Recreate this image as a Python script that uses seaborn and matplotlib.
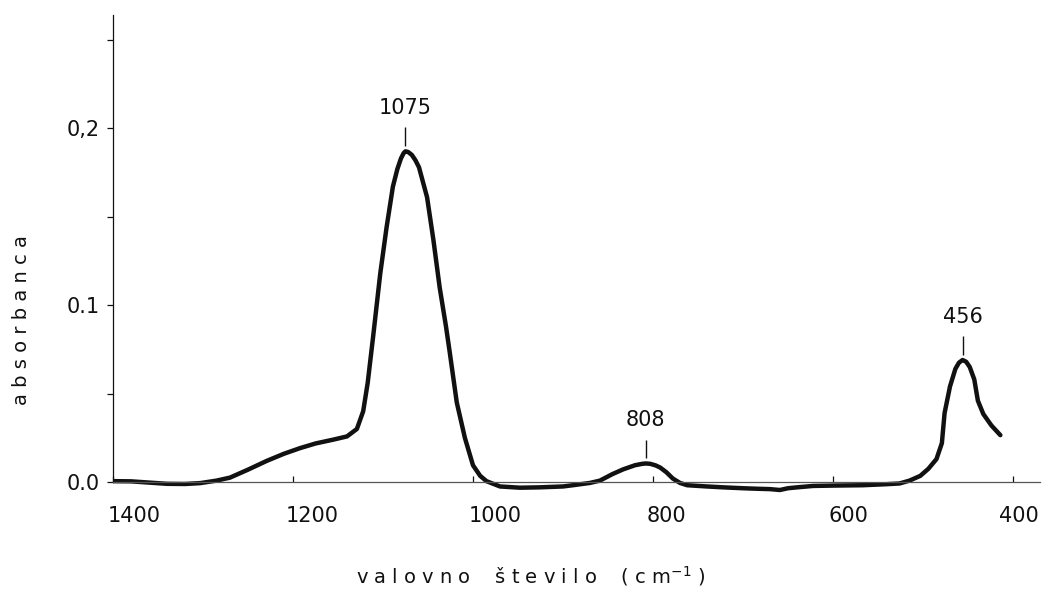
import matplotlib
matplotlib.use("Agg")
import matplotlib.pyplot as plt
import matplotlib.transforms as mtransforms
import pandas as pd
import seaborn as sns

# IR absorption spectrum (wavenumber in cm^-1, descending)
wavenumber = [
    1400, 1380, 1360, 1340, 1320, 1303, 1285, 1270, 1250, 1229,
    1210, 1192, 1175, 1155, 1140, 1129, 1122, 1117, 1111, 1103,
    1096, 1089, 1084, 1080, 1077, 1075, 1072, 1068, 1064, 1060,
    1051, 1044, 1037, 1030, 1026, 1018, 1009, 1000, 992, 985,
    970, 948, 926, 900, 889, 870, 859, 845, 833, 820,
    812, 808, 803, 797, 792, 785, 778, 770, 762, 740,
    722, 700, 684, 670, 659, 650, 640, 622, 600, 567,
    540, 526, 515, 503, 494, 485, 479, 476, 470, 464,
    460, 456, 452, 448, 443, 439, 433, 424, 414,
]
absorbance = [
    0.0005, 0.0004, -0.0003, -0.0010, -0.0011, -0.0006, 0.0008, 0.0025, 0.0070, 0.0120,
    0.0160, 0.0192, 0.0218, 0.0240, 0.0258, 0.0300, 0.0400, 0.0560, 0.0820, 0.1180,
    0.1440, 0.1670, 0.1770, 0.1830, 0.1860, 0.1870, 0.1866, 0.1850, 0.1820, 0.1780,
    0.1610, 0.1370, 0.1100, 0.0880, 0.0740, 0.0450, 0.0250, 0.0095, 0.0035, 0.0005,
    -0.0025, -0.0032, -0.0030, -0.0025, -0.0018, -0.0005, 0.0008, 0.0045, 0.0072, 0.0095,
    0.0103, 0.0105, 0.0103, 0.0094, 0.0082, 0.0055, 0.0020, -0.0005, -0.0018, -0.0025,
    -0.0030, -0.0035, -0.0038, -0.0040, -0.0045, -0.0035, -0.0030, -0.0022, -0.0020, -0.0018,
    -0.0012, -0.0008, 0.0008, 0.0035, 0.0075, 0.0130, 0.0220, 0.0390, 0.0540, 0.0640,
    0.0675, 0.0690, 0.0680, 0.0650, 0.0580, 0.0460, 0.0385, 0.0320, 0.0265,
]

# labelled band maxima
peak_positions = [1075, 808, 456]
peak_heights = [0.187, 0.0105, 0.069]

x_ticks = [1400, 1200, 1000, 800, 600, 400]
x_tick_labels = ["1400", "1200", "1000", "800", "600", "400"]
y_ticks = [0.0, 0.1, 0.2]
y_tick_labels = ["0.0", "0.1", "0,2"]
y_minor_ticks = [0.05, 0.15, 0.25]

x_label = "v a l o v n o    š t e v i l o    ( c m$^{-1}$ )"
y_label = "a b s o r b a n c a"

sns.set_theme(style="ticks")
plt.rcParams["font.family"] = ["DejaVu Sans"]
plt.rcParams["mathtext.fontset"] = "dejavusans"

ink = "#111111"
fs = 15
fs_title = 14

fig = plt.figure(figsize=(10.49, 6.05), dpi=100)
ax = fig.add_axes([0.1077, 0.174, 0.8837, 0.801])

df = pd.DataFrame({"wavenumber": wavenumber, "absorbance": absorbance})
sns.lineplot(data=df, x="wavenumber", y="absorbance", ax=ax, color=ink,
             linewidth=3.2, sort=False, estimator=None)
for ln in ax.lines:
    ln.set_solid_joinstyle("round")
    ln.set_solid_capstyle("round")

ax.set_xlim(1400, 370)
ax.set_ylim(-0.01, 0.264)
ax.set_xlabel("")
ax.set_ylabel("")

# axes frame: baseline at zero, left axis only above it
ax.spines["top"].set_visible(False)
ax.spines["right"].set_visible(False)
ax.spines["bottom"].set_position(("data", 0))
ax.spines["left"].set_bounds(0, 0.264)
ax.spines["left"].set_color(ink)
ax.spines["left"].set_linewidth(0.9)
ax.spines["bottom"].set_color("#555555")
ax.spines["bottom"].set_linewidth(0.9)

ax.set_xticks(x_ticks)
ax.set_xticklabels(x_tick_labels)
ax.set_yticks(y_ticks)
ax.set_yticklabels(y_tick_labels)
ax.set_yticks(y_minor_ticks, minor=True)

ax.tick_params(axis="x", direction="in", length=4.5, width=0.9, color=ink,
               pad=17, labelsize=fs, labelcolor=ink)
ax.tick_params(axis="y", which="both", direction="out", length=4.5, width=0.9,
               color=ink, pad=5, labelsize=fs, labelcolor=ink)

# shift the wavenumber labels slightly right of their ticks
label_shift_px = [21, 19, 22, 13, 15, 6]
for lab, dx in zip(ax.get_xticklabels(), label_shift_px):
    lab.set_transform(lab.get_transform() +
                      mtransforms.ScaledTranslation(dx / fig.dpi, 0, fig.dpi_scale_trans))

# peak markers with their wavenumbers
for pos, h in zip(peak_positions, peak_heights):
    ax.vlines(pos, h + 0.003, h + 0.0135, color=ink, linewidth=1.0)
    ax.text(pos, h + 0.021, str(pos), ha="center", va="baseline",
            fontsize=fs, color=ink)

fig.text(531 / 1049, 1 - 576 / 605, x_label, ha="center", va="center",
         fontsize=fs_title, color=ink)
fig.text(22 / 1049, 1 - 320 / 605, y_label, ha="center", va="center",
         rotation=90, fontsize=fs_title, color=ink)

fig.savefig("out.png", dpi=100, facecolor="white")
